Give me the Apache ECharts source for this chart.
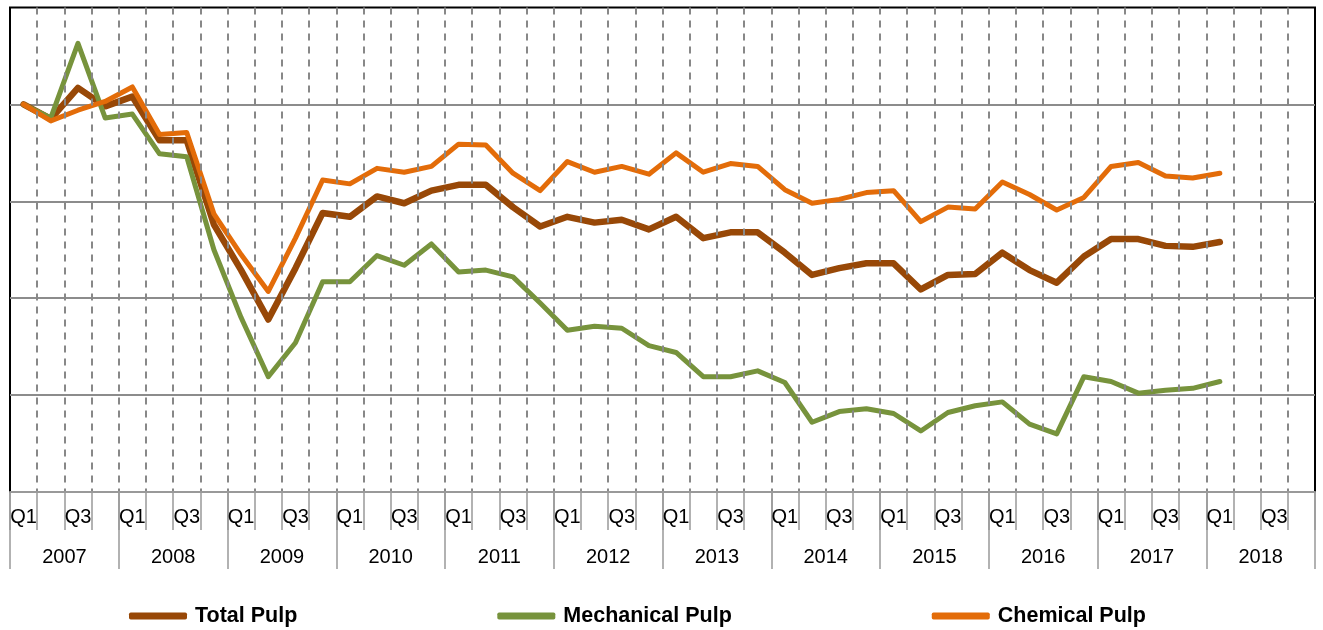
<!DOCTYPE html>
<html>
<head>
<meta charset="utf-8">
<script src="https://cdn.jsdelivr.net/npm/echarts@6/dist/echarts.min.js"></script>
<style>
  html, body { margin: 0; padding: 0; background: #fff; }
  #pulp { width: 1323px; height: 630px; }
</style>
</head>
<body>
<div id="pulp"></div>
<script>
var pulpChart = echarts.init(document.getElementById('pulp'));

var years = ['2007','2008','2009','2010','2011','2012','2013','2014','2015','2016','2017','2018'];
var quarters = [];
years.forEach(function (y) {
    ['Q1','Q2','Q3','Q4'].forEach(function (q) { quarters.push(y + ' ' + q); });
});

// index, 2007 Q1 = 100 (2007 Q1 .. 2018 Q1)
var totalPulp = [100, 98.5, 101.7, 99.8, 100.8, 96.3, 96.3, 87.6, 82.9, 77.8,
    83.1, 88.8, 88.4, 90.5, 89.8, 91.1, 91.7, 91.7, 89.4, 87.4,
    88.4, 87.8, 88.1, 87.1, 88.4, 86.2, 86.8, 86.8, 84.7, 82.4,
    83.1, 83.6, 83.6, 80.9, 82.4, 82.5, 84.7, 82.9, 81.6, 84.3,
    86.1, 86.1, 85.4, 85.3, 85.8];
var mechanicalPulp = [100, 98.6, 106.3, 98.6, 99.0, 94.9, 94.6, 85.0, 78.0, 71.9,
    75.4, 81.7, 81.7, 84.4, 83.4, 85.6, 82.7, 82.9, 82.2, 79.5,
    76.7, 77.1, 76.9, 75.1, 74.4, 71.9, 71.9, 72.5, 71.3, 67.2,
    68.3, 68.6, 68.1, 66.3, 68.2, 68.9, 69.3, 67.0, 66.0, 71.9,
    71.4, 70.2, 70.5, 70.7, 71.4];
var chemicalPulp = [100, 98.3, 99.4, 100.3, 101.8, 96.9, 97.1, 88.7, 84.5, 80.7,
    86.2, 92.2, 91.8, 93.4, 93.0, 93.6, 95.9, 95.8, 92.9, 91.1,
    94.1, 93.0, 93.6, 92.8, 95.0, 93.0, 93.9, 93.6, 91.2, 89.8,
    90.2, 90.9, 91.1, 87.9, 89.4, 89.2, 92.0, 90.7, 89.1, 90.4,
    93.6, 94.0, 92.6, 92.4, 92.9];

var font = "'Liberation Sans', Arial, sans-serif";
var lineOf = function (name, data, color, width) {
    return {
        name: name,
        type: 'line',
        data: data,
        symbol: 'none',
        xAxisIndex: 0,
        lineStyle: { color: color, width: width, cap: 'round', join: 'round' },
        itemStyle: { color: color }
    };
};

option = {
    animation: false,
    backgroundColor: '#fff',
    grid: {
        left: 10, right: 8, top: 7.5, bottom: 138,
        show: true,
        borderColor: '#000',
        borderWidth: 2
    },
    legend: {
        top: 600,
        left: 124,
        itemWidth: 58,
        itemHeight: 7,
        itemGap: 200,
        icon: 'roundRect',
        selectedMode: false,
        textStyle: {
            color: '#000',
            fontFamily: font,
            fontSize: 21.5,
            fontWeight: 'bold',
            padding: [0, 0, 0, 3]
        },
        data: ['Total Pulp', 'Mechanical Pulp', 'Chemical Pulp']
    },
    xAxis: [
        {
            type: 'category',
            data: quarters,
            boundaryGap: true,
            position: 'bottom',
            z: 5,
            axisLine: { show: true, lineStyle: { color: '#999', width: 2 } },
            axisTick: { show: true, interval: 0, length: 38, lineStyle: { color: '#999', width: 1.5 } },
            axisLabel: {
                interval: 1,
                margin: 15,
                color: '#000',
                fontFamily: font,
                fontSize: 20,
                formatter: function (v) { return v.split(' ')[1]; }
            },
            splitLine: {
                show: true,
                interval: 0,
                showMinLine: false,
                showMaxLine: false,
                lineStyle: { color: '#888', width: 2, type: [7, 6] }
            }
        },
        {
            type: 'category',
            data: years,
            boundaryGap: true,
            position: 'bottom',
            axisLine: { show: false },
            axisTick: { show: true, interval: 0, length: 77, lineStyle: { color: '#999', width: 1.5 } },
            axisLabel: {
                interval: 0,
                margin: 55,
                color: '#000',
                fontFamily: font,
                fontSize: 20
            },
            splitLine: { show: false }
        }
    ],
    yAxis: {
        type: 'value',
        min: 60,
        max: 110,
        interval: 10,
        axisLine: { show: false },
        axisTick: { show: false },
        axisLabel: { show: false },
        splitLine: {
            showMinLine: false,
            showMaxLine: false,
            lineStyle: { color: '#8c8c8c', width: 2 }
        }
    },
    series: [
        lineOf('Total Pulp', totalPulp, '#984807', 6.5),
        lineOf('Mechanical Pulp', mechanicalPulp, '#77933C', 5),
        lineOf('Chemical Pulp', chemicalPulp, '#E36C09', 5)
    ]
};
pulpChart.setOption(option);
</script>
</body>
</html>
